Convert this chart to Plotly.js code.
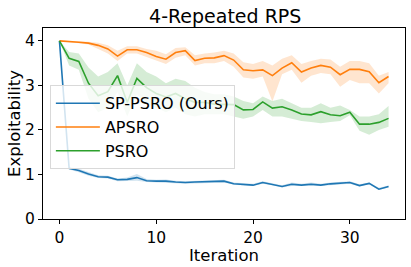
<!DOCTYPE html>
<html>
<head>
<meta charset="utf-8">
<script src="https://cdn.plot.ly/plotly-3.0.1.min.js"></script>
<style>html,body{margin:0;padding:0;background:#fff;}#chart{width:411px;height:267px;}</style>
</head>
<body>
<div id="chart"></div>
<script>
const iterations = [0,1,2,3,4,5,6,7,8,9,10,11,12,13,14,15,16,17,18,19,20,21,22,23,24,25,26,27,28,29,30,31,32,33,34];

const spMean = [4.0,1.14,1.09,1.01,0.95,0.94,0.88,0.89,0.93,0.86,0.85,0.85,0.83,0.82,0.83,0.84,0.84,0.85,0.79,0.78,0.76,0.82,0.78,0.73,0.78,0.76,0.78,0.76,0.79,0.80,0.82,0.75,0.80,0.67,0.73];
const spLow  = [4.0,1.11,1.05,0.97,0.92,0.91,0.85,0.86,0.86,0.83,0.82,0.82,0.80,0.79,0.80,0.81,0.81,0.82,0.77,0.76,0.74,0.79,0.76,0.71,0.74,0.74,0.74,0.74,0.76,0.78,0.79,0.73,0.78,0.65,0.71];
const spHigh = [4.0,1.17,1.13,1.05,0.98,0.97,0.91,0.93,1.01,0.90,0.88,0.89,0.86,0.85,0.86,0.87,0.87,0.88,0.82,0.81,0.79,0.85,0.80,0.76,0.82,0.79,0.82,0.79,0.82,0.83,0.85,0.78,0.82,0.70,0.75];

const apMean = [4.0,3.99,3.97,3.95,3.90,3.82,3.66,3.80,3.80,3.74,3.65,3.59,3.74,3.78,3.56,3.61,3.62,3.67,3.57,3.35,3.33,3.35,3.22,3.39,3.51,3.30,3.39,3.45,3.41,3.24,3.36,3.36,3.31,3.06,3.20];
const apLow  = [4.0,3.98,3.95,3.92,3.82,3.72,3.55,3.72,3.72,3.64,3.55,3.48,3.62,3.68,3.45,3.50,3.50,3.55,3.42,3.18,3.15,3.20,2.64,3.25,3.35,3.06,3.22,3.28,3.25,2.97,3.12,3.05,3.05,2.82,3.05];
const apHigh = [4.0,4.0,3.99,3.98,3.96,3.90,3.78,3.88,3.88,3.82,3.78,3.70,3.84,3.86,3.68,3.72,3.74,3.78,3.72,3.52,3.48,3.55,3.45,3.60,3.68,3.48,3.55,3.60,3.58,3.42,3.55,3.55,3.50,3.22,3.30];

const psMean = [4.0,3.61,3.54,3.05,2.77,2.86,3.22,2.62,3.16,2.95,2.82,2.74,2.82,2.70,2.62,2.62,2.58,2.58,2.57,2.45,2.46,2.63,2.49,2.52,2.45,2.36,2.34,2.41,2.34,2.32,2.40,2.13,2.13,2.17,2.26];
const psLow  = [4.0,3.45,3.35,2.70,2.40,2.50,2.85,2.30,2.80,2.60,2.50,2.40,2.50,2.35,2.30,2.35,2.35,2.35,2.30,2.25,2.30,2.45,2.30,2.30,2.25,2.20,2.18,2.15,2.18,2.20,2.33,1.98,1.89,2.00,2.07];
const psHigh = [4.0,3.75,3.72,3.40,3.20,3.30,3.50,3.00,3.50,3.30,3.20,3.05,3.15,3.10,2.95,2.85,2.80,2.80,2.75,2.65,2.60,2.75,2.65,2.70,2.60,2.50,2.50,2.60,2.50,2.55,2.45,2.30,2.30,2.35,2.54];

const xTicks = [0,10,20,30];
const yTicks = [0,1,2,3,4];

const seriesNames = ['SP-PSRO (Ours)','APSRO','PSRO'];
const colors = ['#1f77b4','#ff7f0e','#2ca02c'];
const fills = ['rgba(31,119,180,0.2)','rgba(255,127,14,0.2)','rgba(44,160,44,0.2)'];
const means = [spMean, apMean, psMean];
const lows = [spLow, apLow, psLow];
const highs = [spHigh, apHigh, psHigh];

const traces = [];
for (let k = 0; k < 3; k++) {
  traces.push({x: iterations, y: lows[k], type:'scatter', mode:'lines', line:{width:0, color:colors[k]}, showlegend:false, hoverinfo:'skip'});
  traces.push({x: iterations, y: highs[k], type:'scatter', mode:'lines', line:{width:0, color:colors[k]}, fill:'tonexty', fillcolor:fills[k], showlegend:false, hoverinfo:'skip'});
}
for (let k = 0; k < 3; k++) {
  traces.push({x: iterations, y: means[k], type:'scatter', mode:'lines', name: seriesNames[k], line:{width:1.6, color:colors[k]}});
}

const font = 'DejaVu Sans, sans-serif';
const layout = {
  width: 411, height: 267,
  margin: {l:43, r:6, t:28, b:48},
  paper_bgcolor:'#fff', plot_bgcolor:'#fff',
  font: {family: font, size: 15, color:'#000'},
  title: {text:'4-Repeated RPS', font:{family:font, size:19, color:'#000'}, x:0.548, xanchor:'center', y:0.94, yanchor:'middle', yref:'container'},
  xaxis: {
    range:[-1.7, 35.7], tickvals: xTicks, ticktext: xTicks.map(String),
    showgrid:false, zeroline:false, showline:true, mirror:true, linecolor:'#000', linewidth:1,
    ticks:'outside', ticklen:4, tickcolor:'#000', tickfont:{size:15.5}
  },
  yaxis: {
    range:[0, 4.29], tickvals: yTicks, ticktext: yTicks.map(String),
    showgrid:false, zeroline:false, showline:true, mirror:true, linecolor:'#000', linewidth:1,
    ticks:'outside', ticklen:4, tickcolor:'#000', tickfont:{size:15.5},
    title:{text:'Exploitability', font:{size:16.5}, standoff:0}
  },
  annotations: [
    {text:'Iteration', xref:'paper', yref:'paper', x:0.5, y:-0.19, xanchor:'center', yanchor:'middle', showarrow:false, font:{family:font, size:16.5, color:'#000'}}
  ],
  showlegend: true,
  legend: {x:0.019, y:0.70, xanchor:'left', yanchor:'top', traceorder:'normal', itemwidth:44, bgcolor:'rgba(255,255,255,0.8)', bordercolor:'#d9d9d9', borderwidth:1, font:{size:16, color:'#000'}, tracegroupgap:0}
};

Plotly.newPlot('chart', traces, layout, {displayModeBar:false, staticPlot:true});
</script>
</body>
</html>
